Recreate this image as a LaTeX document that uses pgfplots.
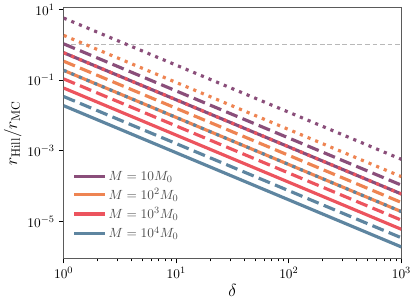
\documentclass[border=0pt]{standalone}
\usepackage{pgfplots}
\pgfplotsset{compat=1.18}
\definecolor{cP}{RGB}{138,78,122}
\definecolor{cO}{RGB}{238,132,82}
\definecolor{cR}{RGB}{236,84,94}
\definecolor{cB}{RGB}{94,133,160}
\definecolor{spine}{RGB}{90,90,90}
\begin{document}
\begin{tikzpicture}
\begin{axis}[
  scale only axis,
  width=278pt, height=206.4pt,
  xmode=log, ymode=log,
  xmin=1, xmax=1000,
  ymin=8.9e-7, ymax=11.2,
  ytick={10,0.1,0.001,0.00001},
  yminorticks=false,
  tick align=outside,
  xtick pos=left, ytick pos=left,
  axis line style={spine, line width=0.8pt},
  major tick length=4pt, minor tick length=2.3pt,
  every tick/.style={black, line width=0.6pt},
  tick label style={font=\fontsize{11}{13}\selectfont},
  xlabel={$\delta$},
  ylabel={$r_{\mathrm{Hill}}/r_{\mathrm{MC}}$},
  label style={font=\fontsize{14}{16}\selectfont},
  xlabel style={yshift=2pt},
  ylabel style={yshift=-2pt},
  legend style={draw=none, fill=none, at={(0.015,0.055)}, anchor=south west,
    font=\fontsize{11}{13}\selectfont, text=black!70, row sep=1.2pt},
  legend cell align=left,
  legend image code/.code={\draw[line width=2.6pt,#1] (0pt,0pt) -- (25pt,0pt);},
  dotted style/.style={line width=2.6pt, dash pattern=on 2.6pt off 4.2pt},
  dashed style/.style={line width=2.6pt, dash pattern=on 10pt off 4.5pt},
  solid style/.style={line width=2.6pt},
]
\addplot[forget plot, color=black!28, line width=0.9pt, dash pattern=on 4pt off 2.2pt] coordinates {(1,1) (1000,1)};
% M = 10 M0
\addplot[forget plot, cP, dotted style] coordinates {(1,5.75) (1000,5.75e-4)};
\addplot[forget plot, cP, dashed style] coordinates {(1,1.07) (1000,1.07e-4)};
\addplot[forget plot, cP, solid style] coordinates {(1,0.60) (1000,6.0e-5)};
% M = 10^2 M0
\addplot[forget plot, cO, dotted style] coordinates {(1,1.86) (1000,1.86e-4)};
\addplot[forget plot, cO, dashed style] coordinates {(1,0.345) (1000,3.45e-5)};
\addplot[forget plot, cO, solid style] coordinates {(1,0.19) (1000,1.9e-5)};
% M = 10^3 M0
\addplot[forget plot, cR, dotted style] coordinates {(1,0.60) (1000,6.0e-5)};
\addplot[forget plot, cR, dashed style] coordinates {(1,0.109) (1000,1.09e-5)};
\addplot[forget plot, cR, solid style] coordinates {(1,0.060) (1000,6.0e-6)};
% M = 10^4 M0
\addplot[forget plot, cB, dotted style] coordinates {(1,0.19) (1000,1.9e-5)};
\addplot[forget plot, cB, dashed style] coordinates {(1,0.0345) (1000,3.45e-6)};
\addplot[forget plot, cB, solid style] coordinates {(1,0.019) (1000,1.9e-6)};
\addlegendimage{cP}
\addlegendentry{$M=10M_0$}
\addlegendimage{cO}
\addlegendentry{$M=10^2M_0$}
\addlegendimage{cR}
\addlegendentry{$M=10^3M_0$}
\addlegendimage{cB}
\addlegendentry{$M=10^4M_0$}
\end{axis}
\end{tikzpicture}
\end{document}
